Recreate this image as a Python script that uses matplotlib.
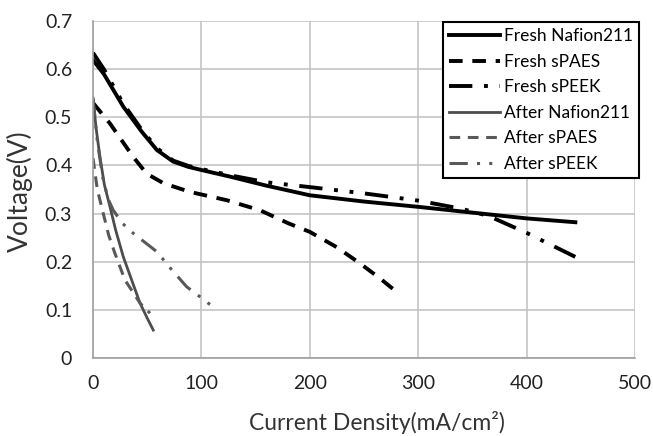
import matplotlib
matplotlib.use("Agg")
import matplotlib.pyplot as plt

plt.rcParams["font.family"] = ["Lato", "DejaVu Sans"]

# polarization curves
fresh_nafion_x = [0, 10, 28, 45, 59, 74, 88, 101, 126, 160, 200, 250, 300, 350, 400, 445]
fresh_nafion_y = [0.619, 0.59, 0.522, 0.47, 0.432, 0.408, 0.397, 0.39, 0.377, 0.358, 0.338, 0.325, 0.314, 0.302, 0.29, 0.282]

fresh_spaes_x = [0, 15.7, 37, 49.5, 65, 89.5, 123, 154, 180, 200, 225, 246, 265, 277]
fresh_spaes_y = [0.53, 0.487, 0.418, 0.383, 0.363, 0.345, 0.328, 0.307, 0.28, 0.262, 0.23, 0.197, 0.165, 0.143]

fresh_speek_x = [0, 10, 28, 45, 59, 74, 88, 101, 130, 160, 200, 250, 300, 340, 365, 400, 445]
fresh_speek_y = [0.634, 0.6, 0.528, 0.474, 0.436, 0.41, 0.399, 0.392, 0.378, 0.365, 0.355, 0.342, 0.327, 0.31, 0.295, 0.26, 0.21]

after_nafion_x = [0, 3, 6.4, 10.5, 15.7, 21, 28, 36, 43.4, 50, 55.6]
after_nafion_y = [0.54, 0.475, 0.418, 0.36, 0.314, 0.265, 0.21, 0.16, 0.114, 0.083, 0.058]

after_spaes_x = [0, 4, 9.5, 14.5, 20.3, 29.5, 43.4, 52.6]
after_spaes_y = [0.415, 0.35, 0.30, 0.255, 0.217, 0.162, 0.114, 0.093]

after_speek_x = [0, 4, 9, 14, 18.7, 27, 37.2, 58.8, 72, 86.4, 100, 112.5]
after_speek_y = [0.54, 0.45, 0.375, 0.33, 0.307, 0.28, 0.259, 0.221, 0.185, 0.148, 0.125, 0.103]

labels = ["Fresh Nafion211", "Fresh sPAES", "Fresh sPEEK",
          "After Nafion211", "After sPAES", "After sPEEK"]

xticks = [0, 100, 200, 300, 400, 500]
yticks = [0, 0.1, 0.2, 0.3, 0.4, 0.5, 0.6, 0.7]

dashed = (0, (3.5, 2.5))
dashdotdot = (0, (6, 3, 1, 3, 1, 3))

fig = plt.figure(figsize=(6.53, 4.36), dpi=100)
ax = fig.add_axes([0.1424, 0.1789, 0.83, 0.7729])

ax.plot(fresh_nafion_x, fresh_nafion_y, color="black", lw=2.8, label=labels[0])
ax.plot(fresh_spaes_x, fresh_spaes_y, color="black", lw=2.8, ls=dashed, label=labels[1])
ax.plot(fresh_speek_x, fresh_speek_y, color="black", lw=2.8, ls=dashdotdot, label=labels[2])
ax.plot(after_nafion_x, after_nafion_y, color="#4d4d4d", lw=2.0, label=labels[3])
ax.plot(after_spaes_x, after_spaes_y, color="#595959", lw=2.2, ls=dashed, label=labels[4])
ax.plot(after_speek_x, after_speek_y, color="#595959", lw=2.2, ls=dashdotdot, label=labels[5])

ax.set_xlim(0, 500)
ax.set_ylim(0, 0.7)
ax.set_xticks(xticks)
ax.set_yticks(yticks)
ax.set_yticklabels(["0" if v == 0 else f"{v:.1f}" for v in yticks])
ax.tick_params(axis="x", length=0, labelsize=14, colors="#222222", pad=12)
ax.tick_params(axis="y", length=0, labelsize=14, colors="#222222", pad=15)
ax.grid(True, color="#c0c0c0", lw=1.1)
for s in ["top", "right"]:
    ax.spines[s].set_visible(False)
for s in ["left", "bottom"]:
    ax.spines[s].set_color("#a0a0a0")
    ax.spines[s].set_linewidth(1.2)

ax.set_xlabel("Current Density(mA/cm²)", fontsize=16.5, color="#333333")
ax.set_ylabel("Voltage(V)", fontsize=19, color="#333333")
ax.xaxis.set_label_coords((377 - 93) / 542, -0.157)
ax.yaxis.set_label_coords(-0.11, 0.496)

leg = ax.legend(loc="upper right", bbox_to_anchor=(639 / 653, 1 - 22 / 436),
                bbox_transform=fig.transFigure, fontsize=12.5, frameon=True,
                fancybox=False, edgecolor="black", handlelength=2.9, handletextpad=0.25,
                borderaxespad=0, labelspacing=0.55, borderpad=0.35)
leg.get_frame().set_linewidth(1.5)
leg.get_frame().set_alpha(1)

fig.savefig("out.png", dpi=100)
